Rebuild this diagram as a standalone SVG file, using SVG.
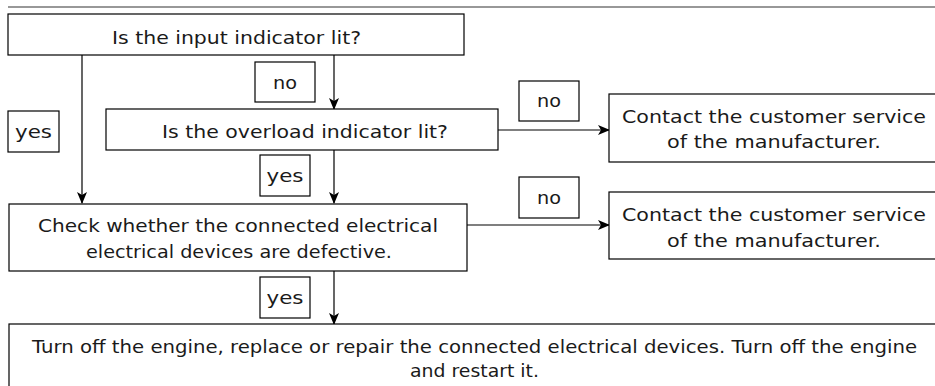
<svg xmlns="http://www.w3.org/2000/svg" width="935" height="386" viewBox="0 0 935 386">
<style>
.box{fill:#fff;stroke:#000;stroke-width:1.2}
.lbl{fill:#fff;stroke:#000;stroke-width:1.2}
.t{font-family:"DejaVu Sans","Liberation Sans",sans-serif;font-size:17.5px;fill:#1a1a1a;text-anchor:middle}
.c{fill:none;stroke:#000;stroke-width:1.2}
</style>
<defs>
<marker id="ah" viewBox="0 0 12 10" refX="11" refY="5" markerWidth="12" markerHeight="10" markerUnits="userSpaceOnUse" orient="auto">
<path d="M0,0 L12,5 L0,10 L3,5 Z" fill="#000"/>
</marker>
</defs>
<rect width="935" height="386" fill="#fff"/>
<line x1="8" y1="7" x2="935" y2="7" stroke="#333" stroke-width="1.2"/>
<g id="connectors">
<line class="c" x1="82" y1="55" x2="82" y2="203" marker-end="url(#ah)"/>
<line class="c" x1="334" y1="55" x2="334" y2="109" marker-end="url(#ah)"/>
<line class="c" x1="334" y1="150" x2="334" y2="203" marker-end="url(#ah)"/>
<line class="c" x1="498" y1="130" x2="609" y2="130" marker-end="url(#ah)"/>
<line class="c" x1="467" y1="225" x2="609" y2="225" marker-end="url(#ah)"/>
<line class="c" x1="334" y1="271" x2="334" y2="324" marker-end="url(#ah)"/>
</g>
<g id="lbl-yes-left"><rect class="lbl" x="8" y="111" width="51" height="41"/><text class="t" x="33.5" y="138" textLength="37" lengthAdjust="spacingAndGlyphs">yes</text></g>
<g id="lbl-no-1"><rect class="lbl" x="255" y="62" width="60" height="40"/><text class="t" x="285" y="89" textLength="24" lengthAdjust="spacingAndGlyphs">no</text></g>
<g id="lbl-yes-2"><rect class="lbl" x="260" y="155" width="50" height="41"/><text class="t" x="285" y="182" textLength="37" lengthAdjust="spacingAndGlyphs">yes</text></g>
<g id="lbl-no-2"><rect class="lbl" x="519" y="81" width="60" height="40"/><text class="t" x="549" y="107" textLength="24" lengthAdjust="spacingAndGlyphs">no</text></g>
<g id="lbl-no-3"><rect class="lbl" x="519" y="177" width="60" height="41"/><text class="t" x="549" y="204" textLength="24" lengthAdjust="spacingAndGlyphs">no</text></g>
<g id="lbl-yes-3"><rect class="lbl" x="260" y="277" width="50" height="41"/><text class="t" x="285" y="304" textLength="37" lengthAdjust="spacingAndGlyphs">yes</text></g>
<g id="n1"><rect class="box" x="8" y="14" width="456" height="41"/><text class="t" x="236.5" y="44" textLength="249" lengthAdjust="spacingAndGlyphs">Is the input indicator lit?</text></g>
<g id="n2"><rect class="box" x="106" y="109" width="392" height="41"/><text class="t" x="305" y="138" textLength="286" lengthAdjust="spacingAndGlyphs">Is the overload indicator lit?</text></g>
<g id="n3"><rect class="box" x="609" y="94" width="340" height="68"/><text class="t" x="774" y="123" textLength="304" lengthAdjust="spacingAndGlyphs">Contact the customer service</text><text class="t" x="774" y="148" textLength="214" lengthAdjust="spacingAndGlyphs">of the manufacturer.</text></g>
<g id="n4"><rect class="box" x="9" y="204" width="458" height="67"/><text class="t" x="238" y="232" textLength="400" lengthAdjust="spacingAndGlyphs">Check whether the connected electrical</text><text class="t" x="239" y="258" textLength="306" lengthAdjust="spacingAndGlyphs">electrical devices are defective.</text></g>
<g id="n5"><rect class="box" x="609" y="192" width="340" height="67"/><text class="t" x="774" y="221" textLength="304" lengthAdjust="spacingAndGlyphs">Contact the customer service</text><text class="t" x="774" y="247" textLength="214" lengthAdjust="spacingAndGlyphs">of the manufacturer.</text></g>
<g id="n6"><rect class="box" x="9" y="324" width="940" height="80"/><text class="t" x="474.5" y="353" textLength="885" lengthAdjust="spacingAndGlyphs">Turn off the engine, replace or repair the connected electrical devices. Turn off the engine</text><text class="t" x="474.5" y="377" textLength="129" lengthAdjust="spacingAndGlyphs">and restart it.</text></g>
</svg>
